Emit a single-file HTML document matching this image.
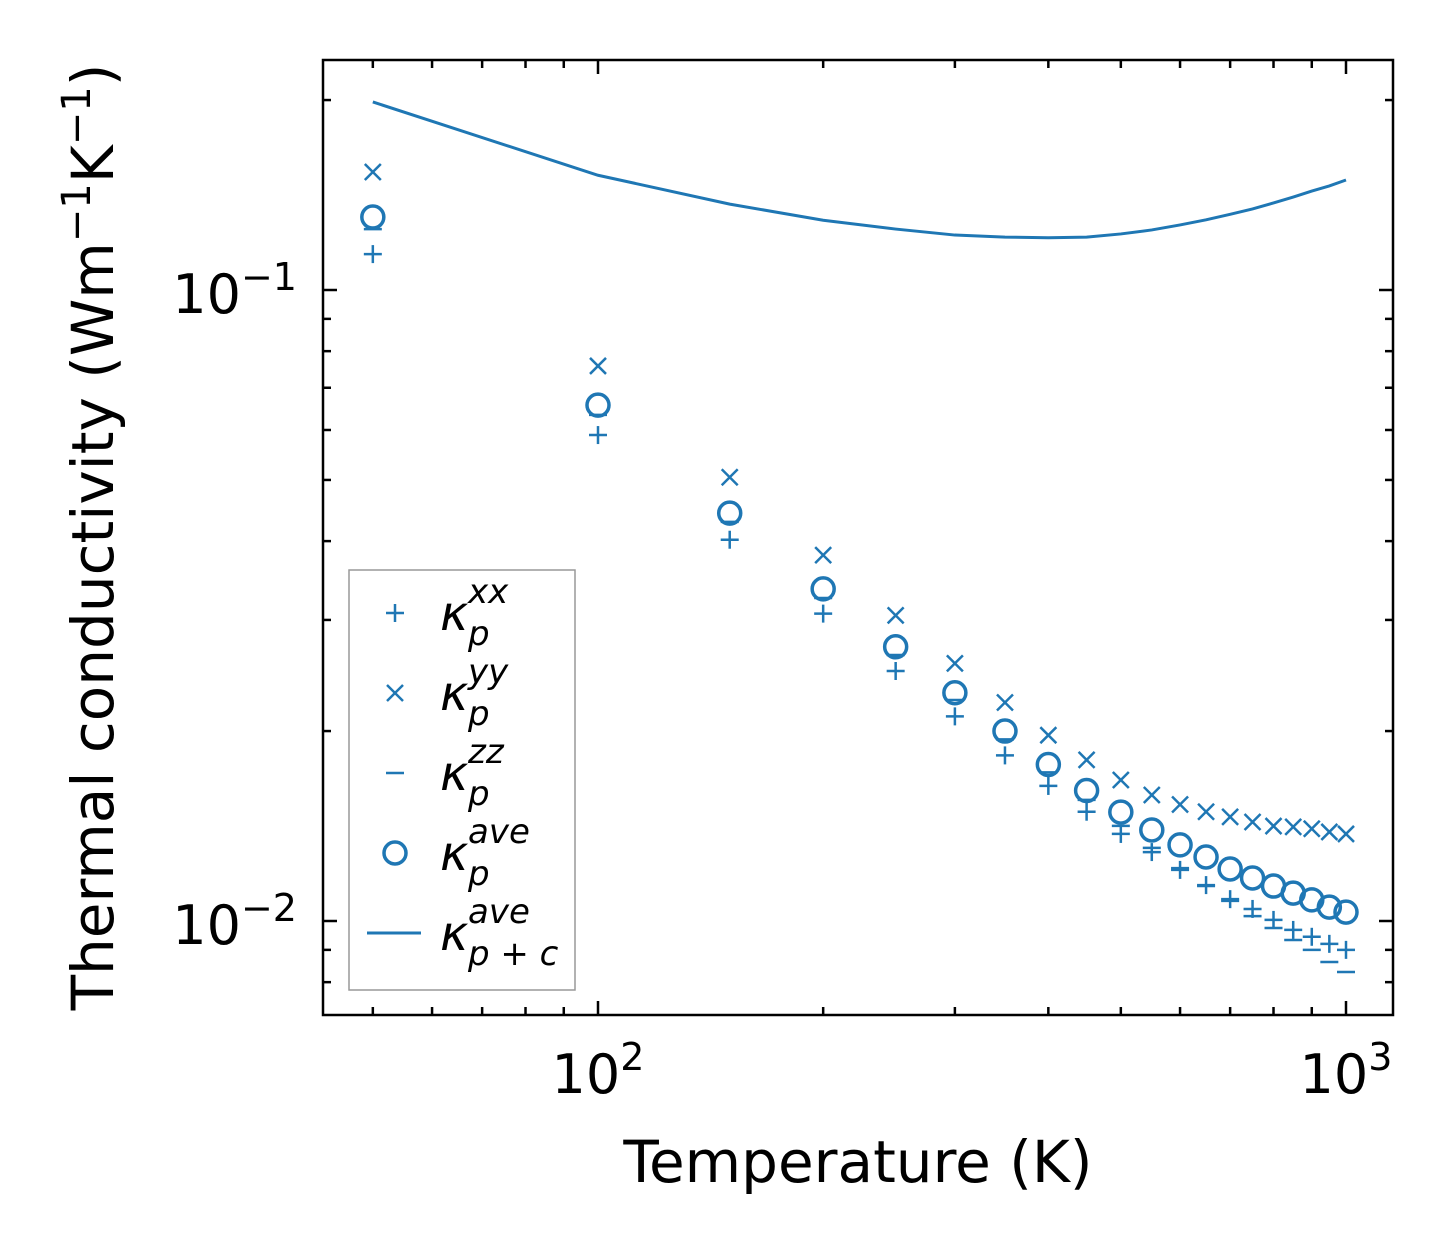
<!DOCTYPE html>
<html><head><meta charset="utf-8"><style>
body{margin:0;background:#fff;}
svg{display:block;font-family:"DejaVu Sans","Liberation Sans",sans-serif;}
</style></head><body>
<svg id="chart" width="1454" height="1254" xmlns="http://www.w3.org/2000/svg"></svg>
<script>
const temps=[50,100,150,200,250,300,350,400,450,500,550,600,650,700,750,800,850,900,950,1000];
const kxx=[0.114,0.0589,0.0402,0.0307,0.0249,0.0211,0.0183,0.01637,0.0149,0.01374,0.01286,0.01205,0.0114,0.01083,0.01045,0.01004,0.00968,0.00944,0.0092,0.009];
const kyy=[0.1538,0.0758,0.0505,0.038,0.0305,0.0256,0.0222,0.0197,0.018,0.01673,0.01584,0.0153,0.0149,0.01462,0.01435,0.01414,0.0141,0.014,0.01384,0.01374];
const kzz=[0.1249,0.0634,0.0429,0.0325,0.0264,0.0224,0.0194,0.0172,0.01556,0.01415,0.01306,0.01213,0.01136,0.01076,0.01018,0.00975,0.00933,0.009,0.00861,0.0083];
const kave=[0.1305,0.0657,0.0443,0.0336,0.0272,0.023,0.02,0.0177,0.0161,0.01488,0.01394,0.0132,0.01263,0.01209,0.0117,0.01136,0.01107,0.0108,0.01052,0.01033];
const kpc=[0.1986,0.152,0.1368,0.129,0.1249,0.1222,0.1213,0.121,0.1213,0.1227,0.1245,0.1268,0.1292,0.1318,0.1344,0.1374,0.1404,0.1435,0.1462,0.1494];
const xTickVals=[100,1000];
const yTickVals=[0.01,0.1];

const svg=document.getElementById('chart');
const NS='http://www.w3.org/2000/svg';
const L=323,R=1393,T=60,B=1015;
const X=v=>598+748*(Math.log10(v)-2);
const Y=v=>290-631*(Math.log10(v)+1);
const C='#1f77b4';
function el(tag,attrs,parent){const e=document.createElementNS(NS,tag);for(const k in attrs)e.setAttribute(k,attrs[k]);(parent||svg).appendChild(e);return e;}

const tk=el('g',{stroke:'#000','stroke-width':2.5});


for(let e=1;e<=3;e++)for(let m=1;m<10;m++){const v=m*Math.pow(10,e);const x=X(v);if(x<L||x>R)continue;const len=m===1?14:8;
 el('line',{x1:x,x2:x,y1:B,y2:B-len},tk);el('line',{x1:x,x2:x,y1:T,y2:T+len},tk);}
for(let e=-3;e<=0;e++)for(let m=1;m<10;m++){const v=m*Math.pow(10,e);const y=Y(v);if(y<T||y>B)continue;const len=m===1?14:8;
 el('line',{x1:L,x2:L+len,y1:y,y2:y},tk);el('line',{x1:R,x2:R-len,y1:y,y2:y},tk);}

xTickVals.forEach(v=>{const t=el('text',{x:X(v),y:1093,'text-anchor':'middle','font-size':54});
 
 
 t.innerHTML='10<tspan dy="-23" font-size="38">'+Math.round(Math.log10(v))+'</tspan>';});
yTickVals.forEach(v=>{const t=el('text',{x:297,y:Y(v)+23,'text-anchor':'end','font-size':54});
 
 
 t.innerHTML='10<tspan dy="-23" font-size="38">\u2212'+Math.abs(Math.round(Math.log10(v)))+'</tspan>';});

const xt=el('text',{x:858,y:1182,'text-anchor':'middle','font-size':58});


xt.textContent='Temperature (K)';
const yt=el('text',{transform:'translate(113,537) rotate(-90)','text-anchor':'middle','font-size':58});


yt.innerHTML='Thermal conductivity (Wm<tspan dy="-23" font-size="40">\u22121</tspan><tspan dy="23">K</tspan><tspan dy="-23" font-size="40">\u22121</tspan><tspan dy="23">)</tspan>';

const line=el('polyline',{fill:'none',stroke:C,'stroke-width':3,points:temps.map((t,i)=>X(t)+','+Y(kpc[i])).join(' ')});


function markers(name,arr,draw){const g=el('g',{stroke:C,fill:'none','stroke-width':2.5});
 
 
 temps.forEach((t,i)=>draw(g,X(t),Y(arr[i])));}
markers('series-kxx',kxx,(g,x,y)=>{el('line',{x1:x-9,x2:x+9,y1:y,y2:y},g);el('line',{x1:x,x2:x,y1:y-9,y2:y+9},g);});
markers('series-kyy',kyy,(g,x,y)=>{el('line',{x1:x-8,x2:x+8,y1:y-8,y2:y+8},g);el('line',{x1:x-8,x2:x+8,y1:y+8,y2:y-8},g);});
markers('series-kzz',kzz,(g,x,y)=>{el('line',{x1:x-9,x2:x+9,y1:y,y2:y},g);});
markers('series-kave',kave,(g,x,y)=>{el('circle',{cx:x,cy:y,r:11,'stroke-width':3.5},g);});

const fr=el('rect',{x:L,y:T,width:R-L,height:B-T,fill:'none',stroke:'#000','stroke-width':2.5});



const lg=el('g',{});


el('rect',{x:349,y:570,width:226,height:420,fill:'#fff',stroke:'#999','stroke-width':1.5},lg);
const entries=[['+','xx',''],['x','yy',''],['-','zz',''],['o','ave',''],['l','ave','p + c']];
entries.forEach((e,i)=>{const cy=613+i*80;const g=el('g',{stroke:C,fill:'none','stroke-width':2.5},lg);
 
 
 const x=395;
 if(e[0]==='+'){el('line',{x1:x-9,x2:x+9,y1:cy,y2:cy},g);el('line',{x1:x,x2:x,y1:cy-9,y2:cy+9},g);}
 if(e[0]==='x'){el('line',{x1:x-8,x2:x+8,y1:cy-8,y2:cy+8},g);el('line',{x1:x-8,x2:x+8,y1:cy+8,y2:cy-8},g);}
 if(e[0]==='-'){el('line',{x1:x-9,x2:x+9,y1:cy,y2:cy},g);}
 if(e[0]==='o'){el('circle',{cx:x,cy:cy,r:11,'stroke-width':3.5},g);}
 if(e[0]==='l'){el('line',{x1:367,x2:421,y1:cy,y2:cy,'stroke-width':3},g);}
 const t=el('text',{x:440,y:cy+17,'font-size':48,'font-style':'italic'},lg);
 t.innerHTML='\u03ba<tspan x="468" dy="-27" font-size="34">'+e[1]+'</tspan><tspan x="468" dy="42" font-size="34">'+(e[2]||'p')+'</tspan>';
});
</script>
</body></html>
